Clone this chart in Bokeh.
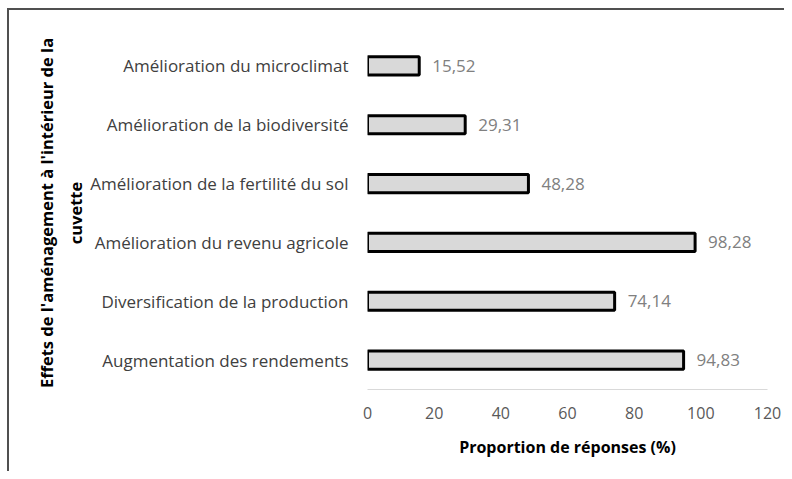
from bokeh.plotting import figure
from bokeh.models import Range1d, FixedTicker, ColumnDataSource, Title, LabelSet
from bokeh.core.properties import value
from bokeh.embed import file_html
from bokeh.resources import INLINE

categories = ["Augmentation des rendements", "Diversification de la production",
              "Amélioration du revenu agricole", "Amélioration de la fertilité du sol",
              "Amélioration de la biodiversité", "Amélioration du microclimat"]
values = [94.83, 74.14, 98.28, 48.28, 29.31, 15.52]
value_labels = ["94,83", "74,14", "98,28", "48,28", "29,31", "15,52"]
x_ticks = [0, 20, 40, 60, 80, 100, 120]

FONT = "Open Sans"

src = ColumnDataSource(dict(cat=categories, val=values, lab=value_labels))

p = figure(width=784, height=471, y_range=categories, x_range=Range1d(0, 120),
           output_backend="svg", toolbar_location=None,
           min_border_top=36, min_border_bottom=82, min_border_right=17, min_border_left=367)
p.outline_line_color = None
p.grid.visible = False
p.background_fill_color = "white"
p.border_fill_color = None
# thin dark frame line along the top and left of the chart box
p.styles = {"box-shadow": "inset 7px 8px 0 0 white, inset 9px 10px 0 0 #505050",
            "background-color": "white"}

p.hbar(y="cat", right="val", left=0, height=0.31, source=src,
       fill_color="#d9d9d9", line_color="black", line_width=3)

labels = LabelSet(x="val", y="cat", text="lab", source=src, x_offset=13,
                  text_baseline="middle", text_font=value(FONT), text_font_size="17px",
                  text_color="#808080")
p.add_layout(labels)

xa = p.xaxis[0]
xa.ticker = FixedTicker(ticks=x_ticks)
xa.axis_line_color = "#d9d9d9"
xa.axis_line_width = 1
xa.major_tick_line_color = None
xa.minor_tick_line_color = None
xa.major_tick_out = 0
xa.major_tick_in = 0
xa.major_label_standoff = 17
xa.major_label_text_font = FONT
xa.major_label_text_font_size = "16px"
xa.major_label_text_color = "#595959"
xa.axis_label = "Proportion de réponses (%)"
xa.axis_label_text_font = FONT
xa.axis_label_text_font_size = "16px"
xa.axis_label_text_font_style = "bold"
xa.axis_label_text_color = "black"
xa.axis_label_standoff = 14

ya = p.yaxis[0]
ya.axis_line_color = None
ya.major_tick_line_color = None
ya.minor_tick_line_color = None
ya.major_tick_out = 0
ya.major_tick_in = 0
ya.major_label_standoff = 19
ya.major_label_text_font = FONT
ya.major_label_text_font_size = "17px"
ya.major_label_text_color = "#404040"

t2 = Title(text="cuvette", align="center", text_font=FONT, text_font_size="16.5px",
           text_font_style="bold", text_color="black", standoff=2)
t1 = Title(text="Effets de l'aménagement à l'intérieur de la", align="center",
           text_font=FONT, text_font_size="16.5px", text_font_style="bold",
           text_color="black", standoff=6)
p.add_layout(t2, "left")
p.add_layout(t1, "left")

open("out.html", "w").write(file_html(p, INLINE))
